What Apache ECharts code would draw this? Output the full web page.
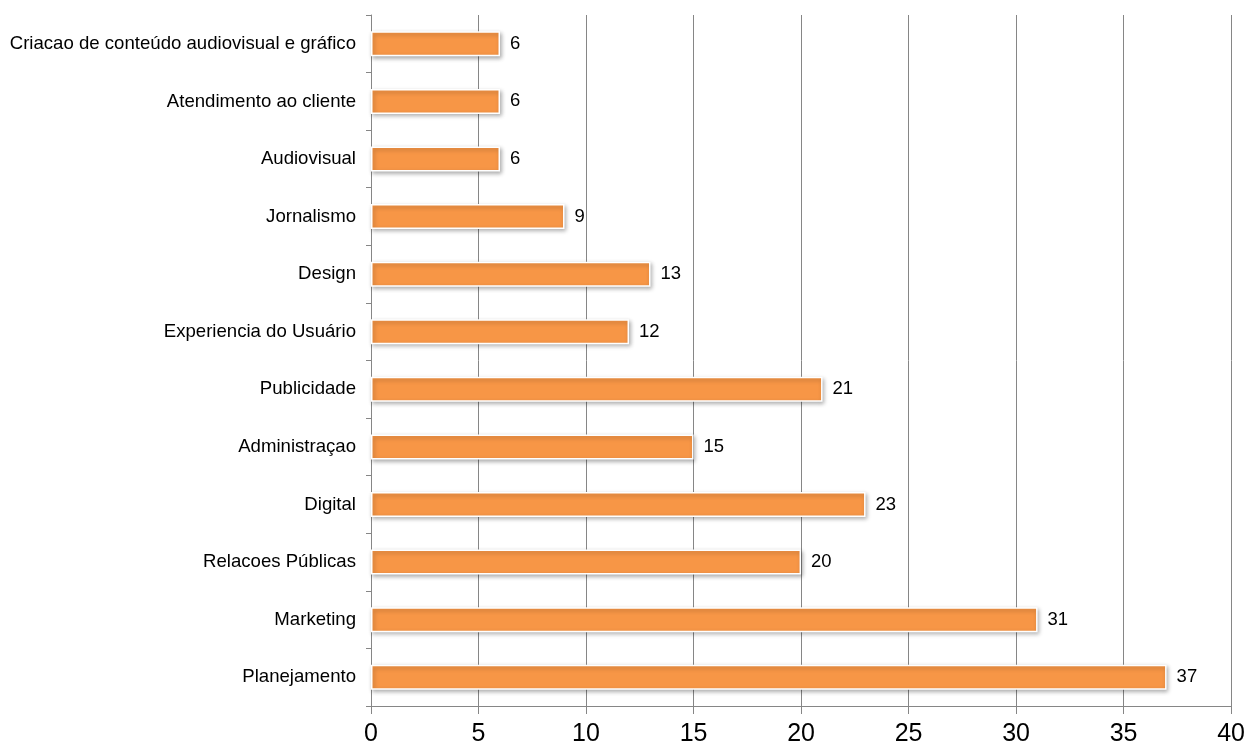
<!DOCTYPE html>
<html>
<head>
<meta charset="utf-8">
<script src="https://cdn.jsdelivr.net/npm/echarts@6/dist/echarts.min.js"></script>
<style>
  html, body { margin: 0; padding: 0; background: #fff; }
  #chart { width: 1248px; height: 747px; }
</style>
</head>
<body>
<div id="chart"></div>
<script>
// Categories listed bottom to top (category axis starts at the bottom)
const categories = [
  'Planejamento',
  'Marketing',
  'Relacoes Públicas',
  'Digital',
  'Administraçao',
  'Publicidade',
  'Experiencia do Usuário',
  'Design',
  'Jornalismo',
  'Audiovisual',
  'Atendimento ao cliente',
  'Criacao de conteúdo audiovisual e gráfico'
];
const values = [37, 31, 20, 23, 15, 21, 12, 13, 9, 6, 6, 6];
const xTicks = { min: 0, max: 40, interval: 5 };

const chart = echarts.init(document.getElementById('chart'));
chart.setOption({
  animation: false,
  backgroundColor: '#ffffff',
  grid: { left: 371, right: 16, top: 15, bottom: 40, containLabel: false },
  xAxis: {
    type: 'value',
    min: xTicks.min,
    max: xTicks.max,
    interval: xTicks.interval,
    axisLine: { show: true, lineStyle: { color: '#868686', width: 1 } },
    axisTick: { show: true, length: 8, lineStyle: { color: '#868686' } },
    splitLine: { show: true, lineStyle: { color: '#868686', width: 1 } },
    axisLabel: {
      color: '#000',
      fontFamily: 'Liberation Sans, Arial, sans-serif',
      fontSize: 25,
      margin: 16
    }
  },
  yAxis: {
    type: 'category',
    data: categories,
    axisLine: { show: true, lineStyle: { color: '#868686', width: 1 } },
    axisTick: { show: true, length: 5, alignWithLabel: false, lineStyle: { color: '#868686' } },
    axisLabel: {
      color: '#000',
      fontFamily: 'Liberation Sans, Arial, sans-serif',
      fontSize: 18.6,
      margin: 15
    }
  },
  series: [{
    type: 'bar',
    data: values,
    barWidth: 25,
    itemStyle: {
      color: '#F79646',
      borderColor: '#ffffff',
      borderWidth: 1.5,
      shadowColor: 'rgba(0,0,0,0.3)',
      shadowBlur: 4,
      shadowOffsetX: 1.5,
      shadowOffsetY: 2
    },
    label: {
      show: true,
      position: 'right',
      distance: 10,
      color: '#000',
      fontFamily: 'Liberation Sans, Arial, sans-serif',
      fontSize: 18.5
    }
  }]
});
</script>
</body>
</html>
